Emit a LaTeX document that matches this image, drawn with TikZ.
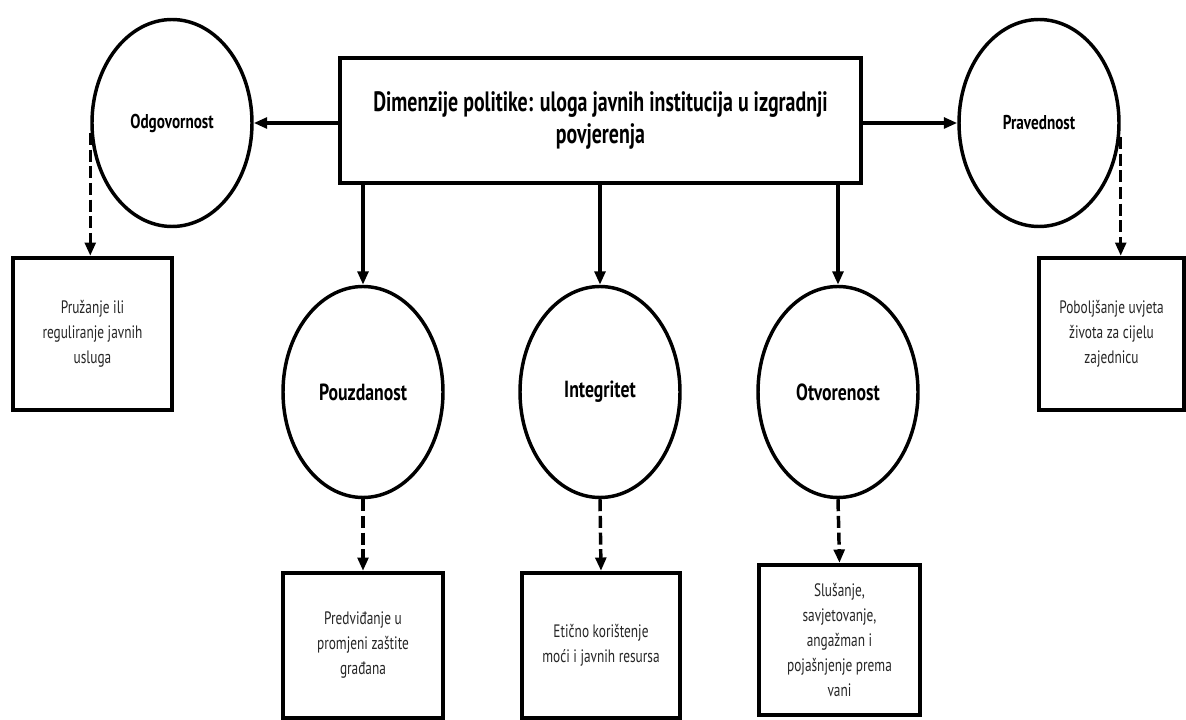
\documentclass[tikz,border=0pt]{standalone}
\usepackage{fontspec}
\setmainfont{PT Sans}
\newfontfamily\titlefont[FakeStretch=0.71]{PT Sans}
\newfontfamily\labelfont[FakeStretch=0.76]{PT Sans}
\newfontfamily\boxfont[FakeStretch=0.74]{PT Sans}
\usetikzlibrary{arrows.meta,shapes.geometric,calc}
\tikzset{
  mainbox/.style={draw, line width=3.2pt, rectangle, inner sep=0pt, align=center,
    font=\titlefont\bfseries\fontsize{21}{24}\selectfont},
  circ/.style={draw, line width=2.6pt, ellipse, inner sep=0pt,
    minimum width=120pt, font=\labelfont\bfseries\fontsize{15}{18}\selectfont},
  circbig/.style={circ, font=\labelfont\bfseries\fontsize{17.5}{20}\selectfont},
  infobox/.style={draw, line width=3.2pt, rectangle, inner sep=0pt, align=center,
    font=\boxfont\fontsize{13.5}{18.75}\selectfont, text=black!85},
  solidarrow/.style={line width=2.6pt, -{Triangle[length=10pt,width=8pt]}},
  dasharrow/.style={line width=2.6pt, dash pattern=on 9pt off 3.5pt,
    -{Triangle[length=10pt,width=8pt]}}
}
\begin{document}
\begin{tikzpicture}[x=0.75pt,y=-0.75pt]
\useasboundingbox[fill=white] (0,0) rectangle (1186,720);

\node[mainbox, minimum width=521*0.75pt, minimum height=125*0.75pt] (main) at (600.5,120.5)
  {Dimenzije politike: uloga javnih institucija u izgradnji\\povjerenja};

\node[circ, minimum height=207*0.75pt] (odg) at (172,123) {Odgovornost};
\node[circ, minimum height=207*0.75pt] (prav) at (1039,123) {Pravednost};

\node[circbig, minimum height=211*0.75pt] (pouz) at (363,392) {Pouzdanost};
\node[circbig, minimum height=211*0.75pt] (integ) at (600,392) {Integritet};
\node[circbig, minimum height=211*0.75pt] (otv) at (838,392) {Otvorenost};

\node[infobox, minimum width=159*0.75pt, minimum height=152*0.75pt] (pru) at (92.5,334)
  {Pružanje ili\\reguliranje javnih\\usluga};
\node[infobox, minimum width=145*0.75pt, minimum height=152*0.75pt] (pob) at (1111.5,334)
  {Poboljšanje uvjeta\\života za cijelu\\zajednicu};
\node[infobox, minimum width=160*0.75pt, minimum height=145*0.75pt] (predv) at (363,645.5)
  {Predviđanje u\\promjeni zaštite\\građana};
\node[infobox, minimum width=158*0.75pt, minimum height=145*0.75pt] (etic) at (601,645.5)
  {Etično korištenje\\moći i javnih resursa};
\node[infobox, minimum width=161*0.75pt, minimum height=150*0.75pt] (slus) at (839.5,640)
  {Slušanje,\\savjetovanje,\\angažman i\\pojašnjenje prema\\vani};

% solid arrows
\draw[solidarrow] (main.west |- odg.east) -- (odg.east);
\draw[solidarrow] (main.east |- prav.west) -- (prav.west);
\draw[solidarrow] (main.south -| pouz.north) -- (pouz.north);
\draw[solidarrow] (main.south -| integ.north) -- (integ.north);
\draw[solidarrow] (main.south -| otv.north) -- (otv.north);

% dashed arrows
\draw[dasharrow] ($(odg.west)+(0,10)$) -- (odg.west |- pru.north);
\draw[dasharrow] ($(prav.east)+(0,14)$) -- (prav.east |- pob.north);
\draw[dasharrow] (pouz.south) -- (predv.north);
\draw[dasharrow] (integ.south) -- (etic.north);
\draw[dasharrow] (otv.south) -- (slus.north);
\end{tikzpicture}
\end{document}
